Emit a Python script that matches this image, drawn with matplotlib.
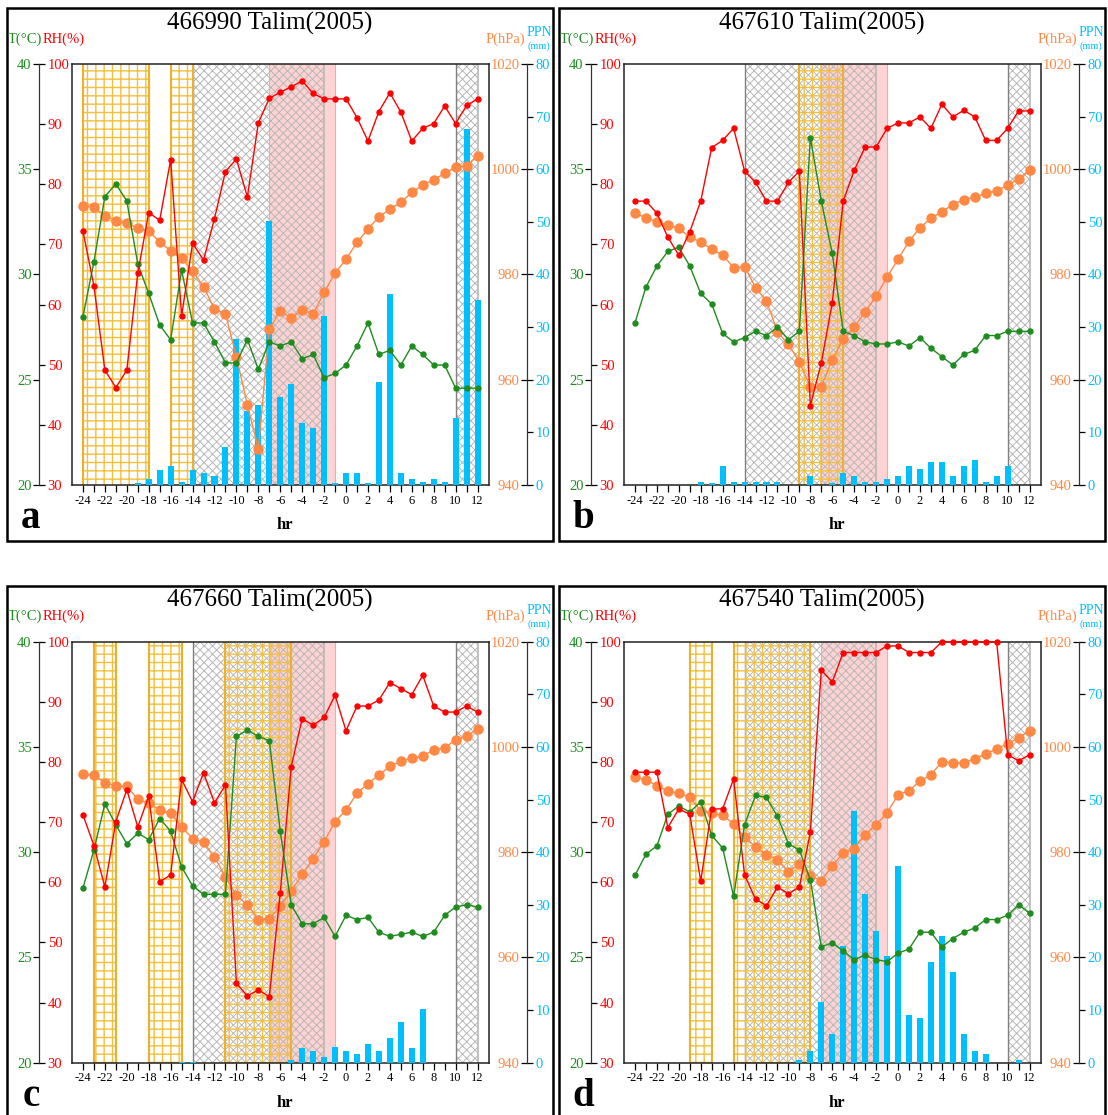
import matplotlib
matplotlib.use('Agg')
import matplotlib.pyplot as plt
from matplotlib.patches import Rectangle

plt.rcParams['font.family'] = ['Liberation Serif', 'DejaVu Serif']
plt.rcParams['hatch.linewidth'] = 0.9
plt.rcParams['axes.unicode_minus'] = False

W, H = 1108, 1115

hours = list(range(-24, 13))
x_major = list(range(-24, 13, 2))

# ---------------- data ----------------
titles = ['466990 Talim(2005)', '467610 Talim(2005)', '467660 Talim(2005)', '467540 Talim(2005)']
letters = ['a', 'b', 'c', 'd']

temp_a = [28.0, 30.6, 33.7, 34.3, 33.5, 30.5, 29.1, 27.6, 26.9, 30.2,
          27.7, 27.7, 26.8, 25.8, 25.8, 26.9, 25.5, 26.8, 26.6, 26.8,
          26.0, 26.2, 25.1, 25.3, 25.7, 26.6, 27.7, 26.2, 26.4, 25.7,
          26.6, 26.2, 25.7, 25.7, 24.6, 24.6, 24.6]
rh_a = [72.2, 63.1, 49.1, 46.2, 49.1, 65.2, 75.3, 74.0, 84.1, 58.1,
        70.2, 67.4, 74.3, 82.1, 84.2, 77.9, 90.2, 94.3, 95.3, 96.2,
        97.2, 95.1, 94.2, 94.2, 94.2, 91.1, 87.2, 92.1, 95.2, 92.0,
        87.2, 89.3, 90.1, 93.0, 90.1, 93.1, 94.2]
pres_a = [993.1, 992.8, 991.1, 990.2, 989.7, 988.8, 988.3, 986.2, 984.5, 983.1,
          980.6, 977.7, 973.4, 972.5, 964.4, 955.2, 946.9, 969.6, 973.1, 971.7,
          973.3, 972.5, 976.6, 980.3, 982.9, 986.1, 988.6, 991.0, 992.4, 993.7,
          995.6, 997.0, 998.0, 999.2, 1000.4, 1000.7, 1002.6]
ppn_a = [0, 0, 0, 0, 0, 0.3, 1.1, 2.8, 3.6, 0.6,
         2.9, 2.2, 1.7, 7.2, 27.7, 14.1, 15.2, 50.2, 16.7, 19.1,
         11.7, 10.9, 32.1, 0.3, 2.3, 2.3, 0.3, 19.6, 36.2, 2.3,
         1.1, 0.6, 1.1, 0.6, 12.8, 67.6, 35.1]

temp_b = [27.7, 29.4, 30.4, 31.1, 31.3, 30.4, 29.1, 28.6, 27.2, 26.8,
          27.0, 27.3, 27.1, 27.5, 26.9, 27.3, 36.5, 33.5, 31.0, 27.3,
          27.1, 26.8, 26.7, 26.7, 26.8, 26.6, 27.0, 26.5, 26.1, 25.7,
          26.2, 26.4, 27.1, 27.1, 27.3, 27.3, 27.3]
rh_b = [77.2, 77.2, 75.2, 71.2, 68.2, 72.1, 77.2, 86.1, 87.3, 89.3,
        82.2, 80.3, 77.2, 77.2, 80.3, 82.2, 43.2, 50.3, 60.3, 77.2,
        82.3, 86.2, 86.2, 89.3, 90.2, 90.2, 91.2, 89.3, 93.3, 91.2,
        92.3, 91.2, 87.3, 87.3, 89.3, 92.2, 92.2]
pres_b = [991.6, 990.8, 990.0, 989.4, 988.8, 987.1, 986.2, 984.8, 983.7, 981.3,
          981.5, 977.5, 975.0, 969.1, 966.7, 963.4, 958.7, 958.7, 963.8, 967.8,
          970.0, 972.9, 975.9, 979.5, 982.9, 986.3, 988.9, 990.7, 991.9, 993.3,
          994.2, 994.7, 995.4, 995.9, 997.0, 998.1, 999.9]
ppn_b = [0, 0, 0, 0, 0, 0, 0.6, 0.3, 3.7, 0.6,
         0.6, 0.6, 0.6, 0.6, 0, 0, 1.7, 0, 0.4, 2.3,
         1.8, 0.6, 0.6, 1.1, 1.7, 3.6, 3.1, 4.3, 4.3, 1.7,
         3.6, 4.8, 0.6, 1.7, 3.6, 0, 0]

temp_c = [28.3, 30.1, 32.3, 31.3, 30.4, 30.9, 30.6, 31.6, 31.0, 29.3,
          28.4, 28.0, 28.0, 28.0, 35.5, 35.8, 35.5, 35.3, 31.0, 27.5,
          26.6, 26.6, 26.9, 26.0, 27.0, 26.8, 26.9, 26.2, 26.0, 26.1,
          26.2, 26.0, 26.2, 27.0, 27.4, 27.5, 27.4]
rh_c = [71.2, 66.1, 59.2, 70.1, 75.4, 69.2, 74.3, 60.1, 61.2, 77.1,
        73.4, 78.2, 73.2, 76.2, 43.2, 41.1, 42.1, 41.0, 58.2, 79.2,
        87.2, 86.1, 87.4, 91.1, 85.2, 89.3, 89.3, 90.3, 93.2, 92.2,
        91.2, 94.4, 89.3, 88.3, 88.3, 89.3, 88.3]
pres_c = [994.9, 994.6, 993.2, 992.6, 992.5, 990.1, 989.3, 988.1, 987.4, 984.8,
          982.6, 981.9, 979.1, 975.3, 971.8, 970.0, 967.2, 967.4, 969.7, 972.6,
          975.8, 978.8, 982.0, 985.8, 988.0, 991.2, 993.0, 994.7, 996.3, 997.3,
          997.9, 998.2, 999.5, 999.8, 1001.4, 1002.0, 1003.4]
ppn_c = [0, 0, 0, 0, 0, 0, 0, 0, 0, 0.2,
         0.2, 0, 0, 0, 0, 0, 0, 0, 0, 0.6,
         2.8, 2.2, 1.1, 3.0, 2.2, 1.6, 3.5, 2.2, 4.7, 7.8,
         2.8, 10.2, 0, 0, 0, 0, 0]

temp_d = [28.9, 29.9, 30.3, 31.8, 32.2, 31.9, 32.4, 30.8, 30.2, 27.9,
          31.3, 32.7, 32.6, 31.7, 30.4, 30.1, 28.7, 25.5, 25.7, 25.3,
          24.9, 25.1, 24.9, 24.8, 25.2, 25.4, 26.2, 26.2, 25.5, 25.9,
          26.2, 26.4, 26.8, 26.8, 27.0, 27.5, 27.1]
rh_d = [78.3, 78.3, 78.3, 69.1, 72.2, 71.3, 60.2, 72.2, 72.2, 77.2,
        61.2, 57.2, 56.1, 59.2, 58.1, 59.2, 68.3, 95.3, 93.3, 98.2,
        98.2, 98.2, 98.2, 99.3, 99.3, 98.2, 98.2, 98.2, 100, 100,
        100, 100, 100, 100, 81.2, 80.2, 81.2]
pres_d = [994.2, 993.8, 992.6, 991.7, 991.2, 990.4, 987.9, 987.4, 987.0, 985.4,
          982.8, 981.0, 979.5, 978.6, 976.3, 977.8, 975.5, 974.6, 977.4, 979.9,
          980.7, 983.3, 985.2, 987.5, 990.9, 991.7, 993.5, 994.7, 997.2, 997.0,
          997.0, 997.7, 998.7, 999.6, 1000.6, 1001.7, 1003.1]
ppn_d = [0, 0, 0, 0, 0, 0, 0, 0, 0, 0,
         0, 0, 0, 0, 0, 0.6, 2.2, 11.6, 5.5, 22.1,
         47.9, 32.1, 25.1, 20.2, 37.4, 9.0, 8.5, 19.1, 24.1, 17.2,
         5.5, 2.2, 1.7, 0, 0, 0.6, 0]

yellow_a = [(-24, -18), (-16, -14)]
yellow_b = [(-9, -5)]
yellow_c = [(-23, -21), (-18, -15), (-11, -5)]
yellow_d = [(-19, -17), (-15, -8)]
gray_spans = [(-14, -2), (10, 12)]
pink_span = (-7, -1)

temp_ticks = [20, 25, 30, 35, 40]
rh_ticks = [30, 40, 50, 60, 70, 80, 90, 100]
pres_ticks = [940, 960, 980, 1000, 1020]
ppn_ticks = [0, 10, 20, 30, 40, 50, 60, 70, 80]

GREEN = '#1E8C1E'
RED = '#FF0000'
ORANGE = '#FF8844'
BLUE = '#00BFFF'
YELLOW = '#F3C03C'
YELLOW_EDGE = '#EDB02A'
GRAY = '#B8B8B8'
GRAY_EDGE = '#808080'
PINK = '#FFD3D3'

fig = plt.figure(figsize=(W / 100, H / 100), dpi=100)

PW, PH = 416.5, 421.0
SP = 0.0786     # offset of the left/right outer spines in axes fraction
SP_R = 1.093


def px(x, y):
    return x / W, 1 - y / H


def panel(left, top, title, letter, temp, rh, pres, ppn, yellow):
    dx, dy = left - 72, top - 64
    ax = fig.add_axes([left / W, 1 - (top + PH) / H, PW / W, PH / H])
    ax.set_xlim(-25, 13)
    ax.set_ylim(0, 1)
    ax.set_yticks([])
    ax.set_xticks(x_major)
    ax.set_xticks(hours, minor=True)
    ax.tick_params(axis='x', which='both', direction='out', length=5, width=0.9,
                   labelsize=9, pad=2)
    for s in ax.spines.values():
        s.set_linewidth(1.1)
        s.set_color('#222222')

    # shading
    ax.axvspan(pink_span[0], pink_span[1], color=PINK, lw=0, zorder=0.5)
    for xv in pink_span:
        ax.axvline(xv, color='#F5A8A8', lw=0.8, zorder=0.6)
    for a, b in gray_spans:
        with plt.rc_context({'hatch.linewidth': 0.7}):
            ax.axvspan(a, b, facecolor='none', edgecolor=GRAY, hatch='xxxx', lw=0, zorder=1)
        ax.axvline(a, color=GRAY_EDGE, lw=1.0, zorder=1.1)
        ax.axvline(b, color=GRAY, lw=1.2, zorder=1.1)
    for a, b in yellow:
        with plt.rc_context({'hatch.linewidth': 1.0}):
            ax.axvspan(a, b, facecolor='none', edgecolor=YELLOW, hatch='++', lw=0, zorder=1.2)
        ax.axvline(a, color=YELLOW_EDGE, lw=1.5, zorder=1.3)
        ax.axvline(b, color=YELLOW_EDGE, lw=1.5, zorder=1.3)

    # precipitation (right outer)
    axN = ax.twinx()
    axN.set_ylim(0, 80)
    axN.bar(hours, ppn, width=0.55, color=BLUE, lw=0, zorder=2)
    for s in ['top', 'bottom', 'left']:
        axN.spines[s].set_visible(False)
    axN.spines['right'].set_position(('axes', SP_R))
    axN.spines['right'].set_color('#333333')
    axN.yaxis.set_ticks_position('right')
    axN.set_yticks(ppn_ticks)
    axN.tick_params(axis='y', direction='out', length=4.5, width=0.9,
                    labelcolor=BLUE, labelsize=10.5, pad=1.5)

    # pressure (right inner)
    axP = ax.twinx()
    axP.set_ylim(940, 1020)
    axP.plot(hours, pres, '-o', color=ORANGE, lw=1.0, ms=6.5, mec=ORANGE, clip_on=False, zorder=3)
    for s in ['top', 'bottom', 'right']:
        axP.spines[s].set_visible(False)
    axP.spines['left'].set_position(('axes', SP_R))
    axP.spines['left'].set_color('#333333')
    axP.yaxis.set_ticks_position('left')
    axP.set_yticks(pres_ticks)
    axP.tick_params(axis='y', direction='out', length=4.5, width=0.9,
                    labelcolor=ORANGE, labelsize=10.5, pad=1)

    # temperature (left outer)
    axT = ax.twinx()
    axT.set_ylim(20, 40)
    axT.plot(hours, temp, '-o', color=GREEN, lw=1.0, ms=3.6, mec=GREEN, clip_on=False, zorder=3)
    for s in ['top', 'bottom', 'right']:
        axT.spines[s].set_visible(False)
    axT.spines['left'].set_position(('axes', -SP))
    axT.spines['left'].set_color('#333333')
    axT.yaxis.set_ticks_position('left')
    axT.set_yticks(temp_ticks)
    axT.tick_params(axis='y', direction='out', length=4.5, width=0.9,
                    labelcolor=GREEN, labelsize=10.5, pad=1)

    # relative humidity (left inner)
    axR = ax.twinx()
    axR.set_ylim(30, 100)
    axR.plot(hours, rh, '-o', color=RED, lw=1.0, ms=3.6, mec=RED, clip_on=False, zorder=3)
    for s in ['top', 'bottom', 'left']:
        axR.spines[s].set_visible(False)
    axR.spines['right'].set_position(('axes', -SP))
    axR.spines['right'].set_color('#333333')
    axR.yaxis.set_ticks_position('right')
    axR.set_yticks(rh_ticks)
    axR.tick_params(axis='y', direction='out', length=4.5, width=0.9,
                    labelcolor=RED, labelsize=10.5, pad=1.5)

    # texts
    fig.text(*px(270 + dx, 23 + dy), title, ha='center', va='center', fontsize=18)
    t1 = fig.text(*px(8 + dx, 39 + dy), 'T(°C)', ha='left', va='center', color=GREEN, fontsize=10.5)
    ax.annotate('RH(%)', xy=(1, 0), xycoords=t1, ha='left', va='bottom', color=RED,
                fontsize=10.5, annotation_clip=False)
    fig.text(*px(525 + dx, 39 + dy), 'P(hPa)', ha='right', va='center', color=ORANGE, fontsize=10.5)
    fig.text(*px(527 + dx, 33 + dy), 'PPN', ha='left', va='center', color=BLUE, fontsize=10)
    fig.text(*px(528 + dx, 46 + dy), '(mm)', ha='left', va='center', color=BLUE, fontsize=7.5)
    fig.text(*px(285 + dx, 525 + dy), 'hr', ha='center', va='center', fontsize=12, fontweight='bold')
    fig.text(*px(31 + dx, 528 + dy), letter, ha='center', va='baseline', fontsize=28, fontweight='bold')

    # panel frame
    x0, y0, x1, y1 = 7 + dx, 8 + dy, 553 + dx, 541 + dy
    fig.add_artist(Rectangle((x0 / W, 1 - y1 / H), (x1 - x0) / W, (y1 - y0) / H,
                             transform=fig.transFigure, fill=False, lw=1.8, ec='black'))


panel(72, 64, titles[0], letters[0], temp_a, rh_a, pres_a, ppn_a, yellow_a)
panel(624, 64, titles[1], letters[1], temp_b, rh_b, pres_b, ppn_b, yellow_b)
panel(72, 641.7, titles[2], letters[2], temp_c, rh_c, pres_c, ppn_c, yellow_c)
panel(624, 641.7, titles[3], letters[3], temp_d, rh_d, pres_d, ppn_d, yellow_d)

fig.savefig('out.png', dpi=100)
